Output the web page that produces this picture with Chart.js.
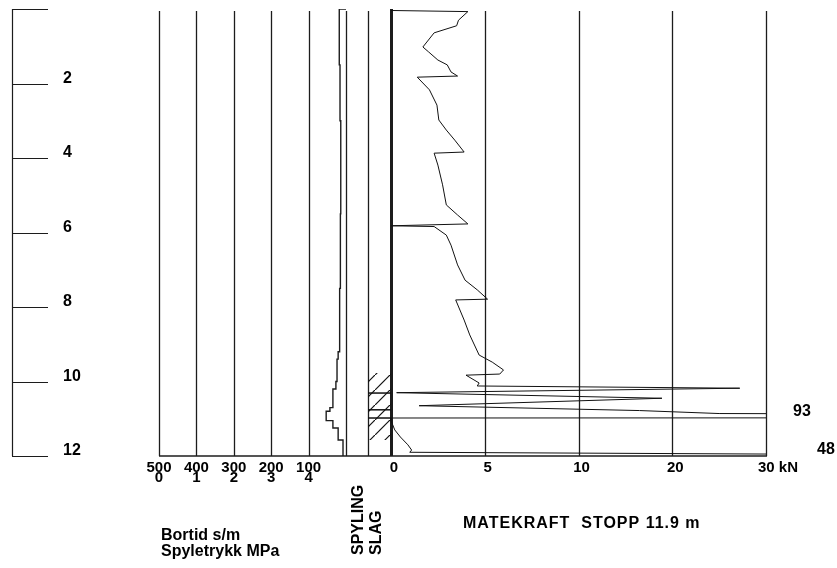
<!DOCTYPE html>
<html>
<head>
<meta charset="utf-8">
<title>Totalsondering</title>
<script src="https://cdn.jsdelivr.net/npm/chart.js@4.4.1/dist/chart.umd.min.js"></script>
<style>
  body { margin: 0; background: #fff; }
  #wrap { width: 837px; height: 568px; }
</style>
</head>
<body>
<div id="wrap"><canvas id="myChart" width="837" height="568"></canvas></div>
<script>
// Bortid (s/m), each value holds from its depth down to the next one
const bortidDybde = [0.0, 0.0, 1.5, 3.0, 5.5, 7.5, 9.2, 9.4, 10.0, 10.2, 10.7, 10.8, 11.05, 11.25, 11.57, 12.0];
const bortidVerdi = [0, 18, 16, 14, 15, 17, 21, 24, 27, 35, 43, 53, 35, 21, 8, 8];

// Matekraft (kN) against depth (m)
const kraftDybde = [0.04, 0.07, 0.30, 0.45, 0.64, 1.02, 1.15, 1.37, 1.50, 1.69, 1.80, 1.83,
  2.17, 2.58, 2.98, 3.25, 3.52, 3.84, 3.87, 4.19, 4.72, 5.26, 5.53, 5.77, 5.82, 5.84,
  6.07, 6.34, 6.87, 7.28, 7.54, 7.79, 7.81, 8.35, 8.75, 9.29, 9.48, 9.69, 9.80, 9.83,
  10.04, 10.12, 10.18, 10.30, 10.45, 10.65, 10.78, 10.86, 10.90, 10.97, 10.98, 11.05,
  11.30, 11.49, 11.70, 11.84, 11.90, 11.97];
const kraftVerdi = [0.0, 4.1, 3.6, 3.5, 2.3, 1.7, 2.0, 2.5, 3.0, 3.2, 3.55, 1.4,
  2.05, 2.45, 2.55, 2.95, 3.4, 3.9, 2.3, 2.5, 2.75, 2.95, 3.55, 4.1, 0.0, 2.3,
  2.95, 3.2, 3.55, 3.95, 4.6, 5.15, 3.45, 3.9, 4.2, 4.7, 5.4, 6.0, 5.8, 4.0,
  4.7, 4.6, 27.2, 0.3, 18.9, 1.5, 16.5, 25, 93, 93, 0.0, 0.0,
  0.2, 0.5, 0.9, 1.1, 1.0, 48];

// Slag interval and the cross lines inside it
const slagFra = [9.77];
const slagTil = [11.57];
const slagLinjer = [10.31, 10.76, 10.98];

// Axis values
const dybdeTicks = [0, 2, 4, 6, 8, 10, 12];
const bortidTicks = [500, 400, 300, 200, 100];
const trykkTicks = [0, 1, 2, 3, 4];
const kraftTicks = [0, 5, 10, 20, 30];
const kraftMaks = 30;
const stoppDybde = 11.9;

// Plot frame and column edges on the canvas
const area = { left: 159, right: 766, top: 9, bottom: 456 };
const bortidNull = 346;
const slagVenstre = 368;
const kraftNull = 391;

const FONT = '"Liberation Sans", Arial, sans-serif';
const LINE = '#1c1c1c';

// Axis min/max so that value v1 lands on pixel p1 and v2 on p2
function akseGrense(v1, p1, v2, p2) {
    const s = (p2 - p1) / (v2 - v1);
    const a = v1 + (area.left - p1) / s;
    const b = v1 + (area.right - p1) / s;
    return s > 0 ? { min: a, max: b, reverse: false } : { min: b, max: a, reverse: true };
}

// Force axis: 0-10 kN in steps of 5, then 10-30 kN in steps of 10, equal width
function kraftTilEnhet(v) {
    return v <= 10 ? v / 5 : 2 + (v - 10) / 10;
}
function enhetTilKraft(u) {
    return u <= 2 ? u * 5 : 10 + (u - 2) * 10;
}

const LinearScale = Chart.LinearScale || Chart.registry.getScale('linear');
class KraftScale extends LinearScale {
    getPixelForValue(value) {
        return value === null ? NaN : super.getPixelForValue(kraftTilEnhet(value));
    }
    getValueForPixel(pixel) {
        return enhetTilKraft(super.getValueForPixel(pixel));
    }
}
KraftScale.id = 'kraft';
Chart.register(KraftScale);

// Hatch for the slag column
function lagSkravur() {
    const c = document.createElement('canvas');
    c.width = 15;
    c.height = 15;
    const g = c.getContext('2d');
    g.strokeStyle = '#111';
    g.lineWidth = 1.2;
    g.beginPath();
    g.moveTo(-1, 16); g.lineTo(16, -1);
    g.stroke();
    return g.createPattern(c, 'repeat');
}

function punkter(dybder, verdier) {
    return dybder.map((d, i) => ({ x: verdier[i], y: d }));
}

const slagPunkter = [];
slagFra.forEach((d, i) => {
    slagPunkter.push({ x: 1, y: d });
    slagPunkter.push({ x: 1, y: slagTil[i] });
});

const datasets = [
    {
        // slag hatch, filled back to the left edge of the column
        xAxisID: 'xS',
        data: slagPunkter,
        borderWidth: 0,
        borderColor: 'rgba(0,0,0,0)',
        backgroundColor: lagSkravur(),
        fill: 'origin',
        pointRadius: 0
    },
    {
        xAxisID: 'xB',
        data: punkter(bortidDybde, bortidVerdi),
        stepped: 'after',
        borderColor: LINE,
        borderWidth: 1.4,
        pointRadius: 0,
        fill: false
    },
    {
        xAxisID: 'xF',
        data: punkter(kraftDybde, kraftVerdi),
        borderColor: '#111',
        borderWidth: 1,
        pointRadius: 0,
        tension: 0,
        fill: false
    }
];

slagLinjer.forEach(d => {
    datasets.push({
        xAxisID: 'xS',
        data: [{ x: 0, y: d }, { x: 1, y: d }],
        borderColor: '#111',
        borderWidth: 1.5,
        pointRadius: 0,
        fill: false
    });
});

const bAxis = akseGrense(500, area.left, 0, bortidNull);
const sAxis = akseGrense(0, slagVenstre, 1, kraftNull);
const fAxis = akseGrense(0, kraftNull, kraftTilEnhet(kraftMaks), area.right);

function vLinje(ctx, x, y0, y1, w) {
    ctx.beginPath();
    ctx.lineWidth = w;
    ctx.moveTo(x, y0);
    ctx.lineTo(x, y1);
    ctx.stroke();
}

// Grid, depth ruler and all the texts
const sonderingPlugin = {
    id: 'sondering',
    beforeDatasetsDraw(chart) {
        const ctx = chart.ctx;
        const y = chart.scales.y;
        const top = y.getPixelForValue(0) + 2;
        const bot = y.getPixelForValue(12);
        ctx.save();
        ctx.strokeStyle = LINE;
        bortidTicks.concat([0]).forEach(v => {
            vLinje(ctx, Math.round(chart.scales.xB.getPixelForValue(v)) + 0.5, top, bot, 1.3);
        });
        vLinje(ctx, Math.round(chart.scales.xS.getPixelForValue(0)) + 0.5, top, bot, 1.3);
        kraftTicks.forEach(v => {
            const x = Math.round(chart.scales.xF.getPixelForValue(v)) + 0.5;
            vLinje(ctx, x, v === 0 ? top - 2 : top, bot, v === 0 ? 3 : 1.3);
        });
        ctx.beginPath();
        ctx.lineWidth = 1.5;
        ctx.moveTo(area.left, bot);
        ctx.lineTo(area.right + 1, bot);
        ctx.stroke();
        ctx.restore();
    },
    afterDatasetsDraw(chart) {
        const ctx = chart.ctx;
        const y = chart.scales.y;
        const xB = chart.scales.xB;
        const xF = chart.scales.xF;
        ctx.save();
        ctx.strokeStyle = LINE;
        ctx.fillStyle = '#000';

        // depth ruler on the left
        vLinje(ctx, 12.5, y.getPixelForValue(0), y.getPixelForValue(12), 1.2);
        ctx.font = 'bold 16px ' + FONT;
        ctx.textAlign = 'left';
        ctx.textBaseline = 'middle';
        dybdeTicks.forEach(d => {
            const py = Math.round(y.getPixelForValue(d)) + 0.5;
            ctx.beginPath();
            ctx.lineWidth = 1.2;
            ctx.moveTo(12, py);
            ctx.lineTo(48, py);
            ctx.stroke();
            if (d > 0) ctx.fillText(String(d), 63, py - 6);
        });

        // bortid / spyletrykk tick labels
        ctx.font = 'bold 15px ' + FONT;
        ctx.textAlign = 'center';
        bortidTicks.forEach((v, i) => {
            const px = xB.getPixelForValue(v);
            ctx.fillText(String(v), px, 468);
            ctx.fillText(String(trykkTicks[i]), px, 478);
        });

        // force tick labels
        kraftTicks.forEach(v => {
            const px = xF.getPixelForValue(v) + 3;
            if (v === kraftMaks) {
                ctx.textAlign = 'left';
                ctx.fillText(v + ' kN', px - 11, 468);
                ctx.textAlign = 'center';
            } else {
                ctx.fillText(String(v), px, 468);
            }
        });

        // values beyond the force axis
        ctx.font = 'bold 16px ' + FONT;
        ctx.textAlign = 'left';
        let n = 0;
        kraftVerdi.forEach((v, i) => {
            if (v > kraftMaks && !(kraftVerdi[i - 1] > kraftMaks)) {
                const py = y.getPixelForValue(kraftDybde[i]) - 3 - n * 2;
                ctx.fillText(String(v), area.right + 27 + n * 24, py);
                n++;
            }
        });

        // column titles
        ctx.textBaseline = 'alphabetic';
        ctx.fillText('Bortid s/m', 161, 540);
        ctx.fillText('Spyletrykk MPa', 161, 556);
        ctx.letterSpacing = '1px';
        ctx.fillText('MATEKRAFT  STOPP ' + stoppDybde + ' m', 463, 528);
        ctx.letterSpacing = '0px';

        ctx.save();
        ctx.translate(363, 555);
        ctx.rotate(-Math.PI / 2);
        ctx.fillText('SPYLING', 0, 0);
        ctx.restore();
        ctx.save();
        ctx.translate(381, 555);
        ctx.rotate(-Math.PI / 2);
        ctx.fillText('SLAG', 0, 0);
        ctx.restore();

        ctx.restore();
    }
};

const ctx = document.getElementById('myChart').getContext('2d');
new Chart(ctx, {
    type: 'line',
    data: { datasets: datasets },
    options: {
        indexAxis: 'y',
        responsive: false,
        animation: false,
        events: [],
        layout: {
            padding: {
                left: area.left,
                right: 837 - area.right,
                top: area.top,
                bottom: 568 - area.bottom
            }
        },
        scales: {
            y: { type: 'linear', axis: 'y', reverse: true, min: 0, max: 12, bounds: 'data', display: false },
            xB: { type: 'linear', axis: 'x', position: 'bottom', min: bAxis.min, max: bAxis.max, reverse: bAxis.reverse, bounds: 'data', display: false },
            xS: { type: 'linear', axis: 'x', position: 'bottom', min: sAxis.min, max: sAxis.max, reverse: sAxis.reverse, bounds: 'data', display: false },
            xF: { type: 'kraft', axis: 'x', position: 'bottom', min: fAxis.min, max: fAxis.max, reverse: fAxis.reverse, bounds: 'data', display: false }
        },
        plugins: {
            legend: { display: false },
            tooltip: { enabled: false }
        }
    },
    plugins: [sonderingPlugin]
});
</script>
</body>
</html>
